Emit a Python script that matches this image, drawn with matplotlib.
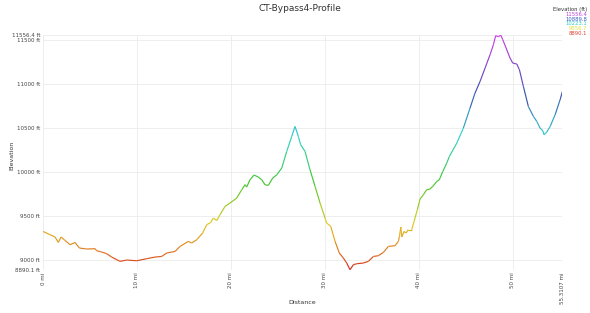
import numpy as np
import matplotlib
matplotlib.use("Agg")
import matplotlib.pyplot as plt
from matplotlib.collections import LineCollection
from matplotlib.colors import LinearSegmentedColormap, Normalize

distance_mi = [0.0, 1.28, 1.63, 1.92, 2.34, 2.88, 3.41, 3.87, 4.65, 5.54, 5.71, 6.25, 6.78,
               7.31, 8.2, 8.91, 9.98, 11.04, 11.93, 12.64, 13.17, 14.06, 14.59, 15.47, 15.83,
               16.37, 17.0, 17.43, 17.86, 18.14, 18.5, 18.85, 19.38, 19.91, 20.63, 21.16,
               21.51, 21.69, 22.04, 22.47, 22.93, 23.29, 23.64, 23.99, 24.46, 24.89, 25.42,
               25.95, 26.48, 26.84, 27.19, 27.44, 27.9, 28.43, 28.97, 29.5, 30.03, 30.21,
               30.64, 31.1, 31.55, 31.98, 32.34, 32.69, 33.05, 33.4, 34.11, 34.65, 35.18,
               35.71, 36.24, 36.78, 37.49, 37.84, 37.95, 38.1, 38.2, 38.45, 38.66, 38.9,
               39.26, 39.51, 39.86, 40.15, 40.5, 40.86, 41.21, 41.56, 41.93, 42.2, 42.57,
               42.99, 43.27, 44.06, 44.76, 45.47, 46.0, 46.54, 47.07, 47.6, 47.96, 48.2,
               48.49, 48.74, 48.96, 49.31, 49.73, 50.02, 50.45, 50.73, 51.15, 51.68, 52.22,
               52.58, 52.93, 53.22, 53.35, 53.64, 54.0, 54.53, 55.06, 55.3107]
elevation_ft = [9325, 9262, 9200, 9262, 9223, 9174, 9200, 9137, 9125, 9129, 9106, 9091, 9072,
                9034, 8985, 9000, 8992, 9015, 9034, 9041, 9080, 9098, 9155, 9212, 9193,
                9231, 9307, 9401, 9427, 9477, 9450, 9515, 9609, 9648, 9705, 9799,
                9856, 9830, 9912, 9966, 9943, 9912, 9856, 9848, 9932, 9969, 10045,
                10234, 10404, 10518, 10404, 10310, 10234, 10026, 9836, 9648, 9477, 9420,
                9382, 9212, 9080, 9023, 8966, 8890.1, 8947, 8958, 8966, 8985, 9041,
                9049, 9087, 9155, 9163, 9212, 9268, 9375, 9262, 9325, 9307, 9345,
                9345, 9439, 9572, 9693, 9742, 9799, 9807, 9844, 9893, 9912, 10007,
                10102, 10177, 10329, 10499, 10727, 10897, 11030, 11181, 11333, 11447, 11549,
                11537, 11556.4, 11503, 11409, 11295, 11238, 11227, 11162, 10973, 10745, 10632,
                10575, 10499, 10469, 10424, 10454, 10518, 10651, 10821, 10916]

y_ticks = [8890.1, 9000, 9500, 10000, 10500, 11000, 11500, 11556.4]
y_tick_labels = ["8890.1 ft", "9000 ft", "9500 ft", "10000 ft", "10500 ft", "11000 ft", "11500 ft", "11556.4 ft"]
x_ticks = [0, 10, 20, 30, 40, 50, 55.3107]
x_tick_labels = ["0 mi", "10 mi", "20 mi", "30 mi", "40 mi", "50 mi", "55.3107 mi"]
legend_values = ["11556.4", "10889.8", "10223.1", "9556.7", "8890.1"]
legend_colors = ["#c040e0", "#3a5cc0", "#30c8c8", "#e0e040", "#e04030"]

cmap = LinearSegmentedColormap.from_list("elev", [
    (0.0, "#d42a1c"), (0.08, "#e07a22"), (0.2, "#e2cc22"), (0.37, "#44c62e"),
    (0.57, "#30d4d0"), (0.75, "#3a4fb0"), (1.0, "#d040e6")])

fig = plt.figure(figsize=(5.9, 3.13), dpi=100)
ax = fig.add_axes([0.0729, 0.1383, 0.8804, 0.7497])

x = np.array(distance_mi)
y = np.array(elevation_ft)
pts = np.column_stack([x, y]).reshape(-1, 1, 2)
segs = np.concatenate([pts[:-1], pts[1:]], axis=1)
norm = Normalize(vmin=8890.1, vmax=11556.4)
lc = LineCollection(segs, cmap=cmap, norm=norm, linewidth=0.85)
lc.set_array((y[:-1] + y[1:]) / 2)
ax.add_collection(lc)

ax.set_xlim(0, 55.3107)
ax.set_ylim(8890.1, 11556.4)
ax.set_yticks(y_ticks)
ax.set_yticklabels(y_tick_labels, fontsize=4, color="#444444")
ax.set_xticks(x_ticks)
ax.set_xticklabels(x_tick_labels, fontsize=4, color="#444444", rotation=90)
ax.tick_params(length=0, pad=2)
ax.grid(True, color="#ebebeb", linewidth=0.6)
ax.set_axisbelow(True)
for s in ax.spines.values():
    s.set_visible(False)

fig.text(0.508, 0.972, "CT-Bypass4-Profile", ha="center", va="center", fontsize=6.5, color="#333333")
fig.text(0.02, 0.505, "Elevation", rotation=90, ha="center", va="center", fontsize=4.5, color="#333333")
fig.text(0.513, 0.035, "Distance", ha="center", va="center", fontsize=4.5, color="#333333")

fig.text(0.995, 0.970, "Elevation (ft)", ha="right", va="center", fontsize=3.8, color="#333333")
for i, (v, c) in enumerate(zip(legend_values, legend_colors)):
    fig.text(0.995, 0.954 - i * 0.0153, v, ha="right", va="center", fontsize=3.8, color=c)

fig.savefig("out.png", dpi=100)
